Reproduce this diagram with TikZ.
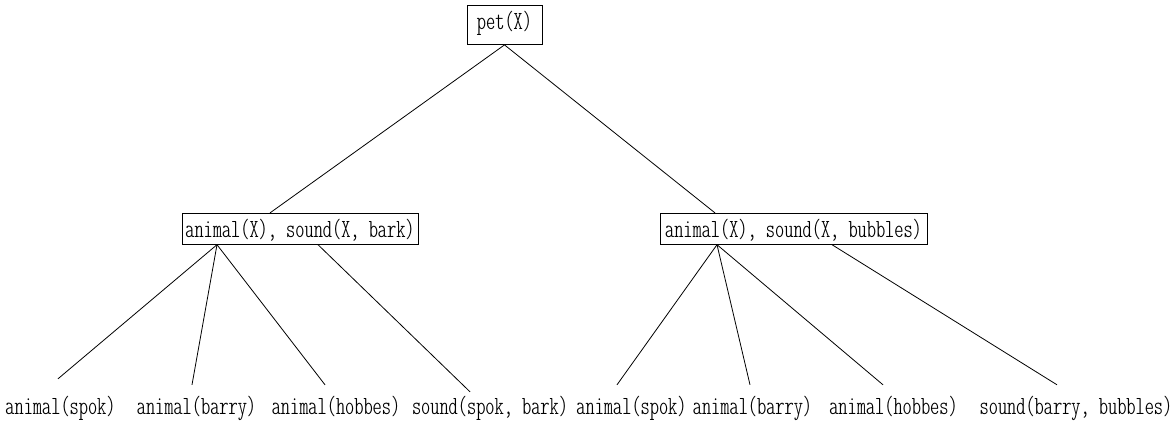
\documentclass[tikz,border=0pt]{standalone}
\usepackage{fontspec}
\begin{document}
\begin{tikzpicture}[x=1pt,y=1pt,
  every node/.style={font=\fontfamily{lmtt}\fontseries{lc}\fontsize{26.2}{28}\selectfont},
  goal/.style={draw, line width=0.8pt, inner sep=0pt, anchor=base},
  leaf/.style={anchor=base, text height=29pt, text depth=6pt, inner sep=0pt},
  branch/.style={line width=0.8pt}]
\useasboundingbox (0,0) rectangle (1172,424);
% goals
\node[goal, minimum width=75pt, text height=25pt, text depth=14.5pt] (pet) at (504.5,394) {pet(X)};
\node[goal, minimum width=236pt, text height=24pt, text depth=7pt] (l) at (300,186.7) {animal(X), sound(X, bark)};
\node[goal, minimum width=267pt, text height=24pt, text depth=7pt] (r) at (793.5,186.7) {animal(X), sound(X, bubbles)};
% leaves
\node[leaf] (l1) at (60.5,10) {animal(spok)};
\node[leaf] (l2) at (196.5,10) {animal(barry)};
\node[leaf] (l3) at (336,10) {animal(hobbes)};
\node[leaf] (l4) at (490,10) {sound(spok, bark)};
\node[leaf] (r1) at (631.5,10) {animal(spok)};
\node[leaf] (r2) at (752.5,10) {animal(barry)};
\node[leaf] (r3) at (893.5,10) {animal(hobbes)};
\node[leaf] (r4) at (1076,10) {sound(barry, bubbles)};
% branches
\draw[branch] (pet.south) -- ([xshift=-30pt]l.north);
\draw[branch] (pet.south) -- ([xshift=-78.5pt]r.north);
\draw[branch] ([xshift=-83pt]l.south) -- ([xshift=-2.5pt,yshift=6pt]l1.north);
\draw[branch] ([xshift=-83pt]l.south) -- ([xshift=-4.5pt]l2.north);
\draw[branch] ([xshift=-83pt]l.south) -- ([xshift=-11pt]l3.north);
\draw[branch] ([xshift=18pt]l.south) -- ([xshift=-20pt,yshift=-7pt]l4.north);
\draw[branch] ([xshift=-76.5pt]r.south) -- ([xshift=-14.5pt]r1.north);
\draw[branch] ([xshift=-76.5pt]r.south) -- ([xshift=-2.5pt]r2.north);
\draw[branch] ([xshift=-76.5pt]r.south) -- ([xshift=-10.5pt]r3.north);
\draw[branch] ([xshift=38.5pt]r.south) -- ([xshift=-19pt]r4.north);
\end{tikzpicture}
\end{document}
